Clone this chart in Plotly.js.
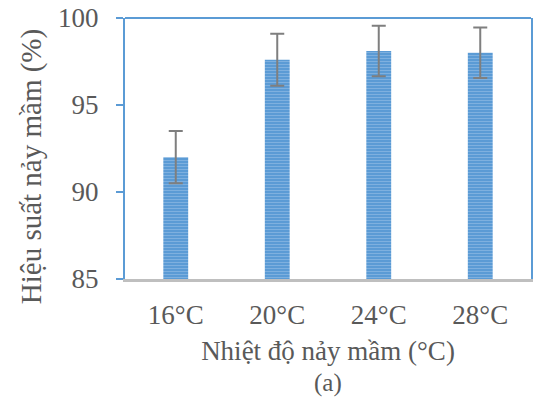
<!DOCTYPE html>
<html>
<head>
<meta charset="utf-8">
<script src="https://cdn.plot.ly/plotly-3.0.1.min.js"></script>
<style>html,body{margin:0;padding:0;background:#fff}#chart{width:534px;height:398px}</style>
</head>
<body>
<div id="chart"></div>
<script>
const categories = ["16°C", "20°C", "24°C", "28°C"];
const values = [92.0, 97.6, 98.1, 98.0];
const errors = [1.5, 1.5, 1.45, 1.45];
const yTicks = [85, 90, 95, 100];

const textColor = "#595959";
const blue = "#5b9bd5";
const font = "'Liberation Serif', 'Times New Roman', serif";

const trace = {
  type: "bar",
  x: categories,
  y: values,
  error_y: {type: "data", array: errors, visible: true, color: "#7f7f7f", thickness: 2, width: 7},
  marker: {
    color: blue,
    line: {width: 0},
    pattern: {shape: "-", bgcolor: "#5b9bd5", fgcolor: "#a9cbeb", size: 3, solidity: 0.3, fillmode: "overlay"}
  },
  hoverinfo: "none"
};

const layout = {
  width: 534, height: 398,
  margin: {l: 125, r: 3, t: 18, b: 119},
  paper_bgcolor: "#fff", plot_bgcolor: "#fff",
  showlegend: false,
  bargap: 0.755,
  font: {family: font, color: textColor, size: 24},
  xaxis: {
    type: "category",
    showline: true, linecolor: "#bfbfbf", linewidth: 3,
    ticks: "", showgrid: false,
    ticklabelstandoff: 10,
    tickfont: {family: font, size: 27, color: textColor},
    title: {text: "Nhiệt độ nảy mầm (°C)", font: {family: font, size: 27, color: textColor}, standoff: 12}
  },
  yaxis: {
    range: [85, 100], tickvals: yTicks, ticktext: yTicks.map(String),
    showline: true, linecolor: blue, linewidth: 2, mirror: true,
    ticks: "outside", ticklen: 7, tickcolor: blue, tickwidth: 1.5,
    ticklabelstandoff: 12,
    showgrid: false, zeroline: false,
    tickfont: {family: font, size: 27, color: textColor}
  },
  shapes: [
    {type: "line", xref: "paper", yref: "paper", x0: 0, x1: 1, y0: 1, y1: 1, line: {color: blue, width: 2}}
  ],
  annotations: [
    {text: "Hiệu suất nảy mầm (%)", xref: "paper", yref: "paper", x: -0.231, y: 0.429, textangle: -90, xanchor: "center", yanchor: "middle", showarrow: false, font: {family: font, size: 29, color: textColor}},
    {text: "(a)", xref: "paper", yref: "paper", x: 0.5, y: -0.398, xanchor: "center", yanchor: "middle", showarrow: false, font: {family: font, size: 25, color: textColor}}
  ]
};

Plotly.newPlot("chart", [trace], layout, {displayModeBar: false, staticPlot: true});
</script>
</body>
</html>
